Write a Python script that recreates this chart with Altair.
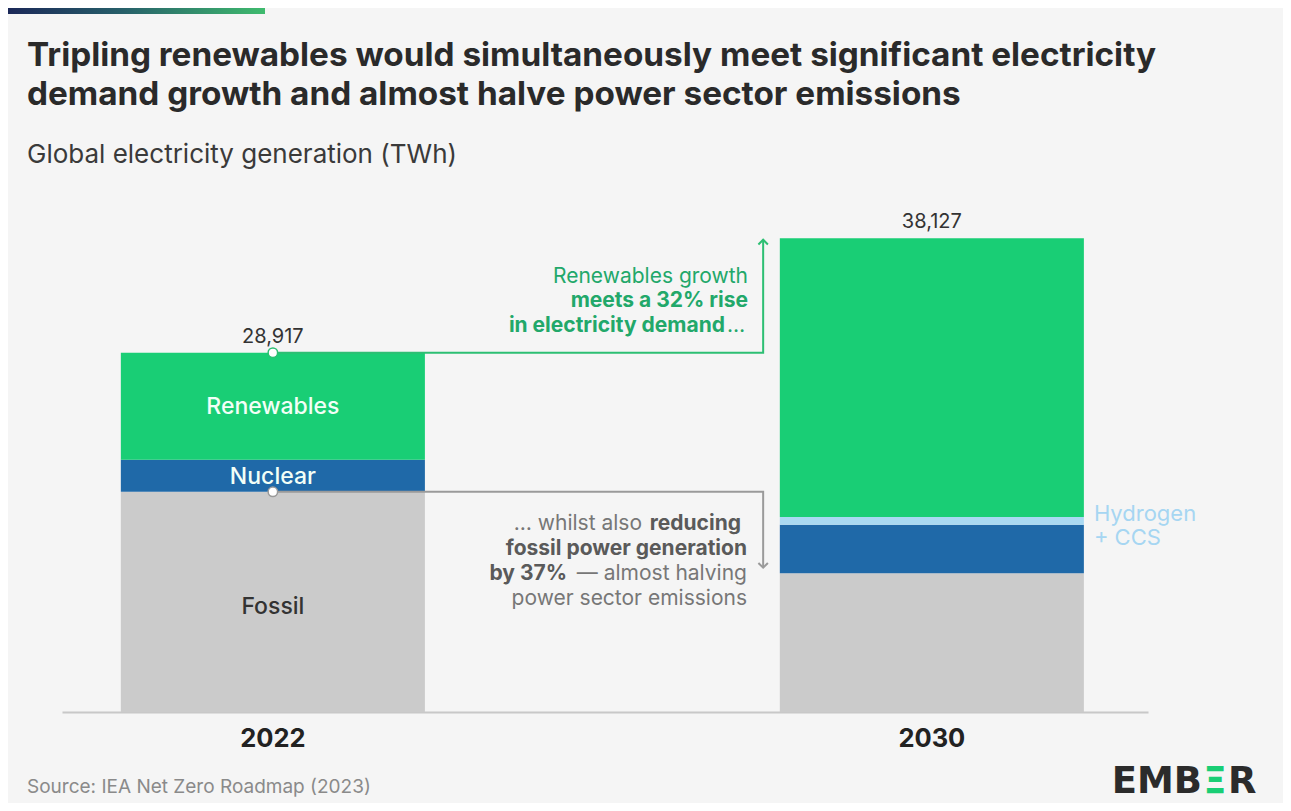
import altair as alt
import pandas as pd

# ---------------- data ----------------
years = ["2022", "2030"]
categories = ["Fossil", "Nuclear", "Hydrogen + CCS", "Renewables"]
fossil = [17720, 11163]
nuclear = [2578, 3900]
hydrogen_ccs = [0, 640]
renewables = [8619, 22424]
totals = [28917, 38127]

colors = ["#cbcbcb", "#1f69a8", "#a9d9f2", "#19ce75"]

FONT = "Inter"
HALF = 0.2307          # half bar width in slot units
XC = 0.744             # x (slot units) of the connector verticals

rows = []
for i, yr in enumerate(years):
    base = 0
    for cat, vals in zip(categories, [fossil, nuclear, hydrogen_ccs, renewables]):
        v = vals[i]
        rows.append(dict(year=yr, idx=i, category=cat, start=base, end=base + v, mid=base + v / 2))
        base += v
seg = pd.DataFrame(rows)
tot = pd.DataFrame({"year": years, "idx": [0, 1], "total": totals})

green_path = pd.DataFrame({"x": [0, XC, XC], "y": [totals[0], totals[0], totals[1] - 120], "o": [0, 1, 2]})
gray_path = pd.DataFrame({"x": [0, XC, XC], "y": [fossil[0], fossil[0], fossil[1] + 450], "o": [0, 1, 2]})

xscale = alt.Scale(domain=[-0.32, 1.328], nice=False, zero=False)
yscale = alt.Scale(domain=[0, 40000], nice=False)
xaxis = alt.Axis(domain=True, domainColor="#c8c8c8", domainWidth=2, ticks=False,
                 labels=False, grid=False, title=None)


def X(f):
    return alt.X(f, type="quantitative", scale=xscale, axis=xaxis)


def Y(f):
    return alt.Y(f, type="quantitative", scale=yscale, axis=None)


one = alt.Data(values=[{"a": 1}])


def txt(text, x, y, size, color, weight="normal", align="left", font=FONT):
    return alt.Chart(one).mark_text(
        text=text, align=align, baseline="alphabetic", fontSize=size,
        fontWeight=weight, color=color, font=font
    ).encode(x=alt.value(x), y=alt.value(y))


bars = alt.Chart(seg).transform_filter("datum.end > datum.start").transform_calculate(
    x0=f"datum.idx - {HALF}", x1=f"datum.idx + {HALF}"
).mark_rect(strokeWidth=0).encode(
    x=X("x0"), x2="x1", y=Y("start"), y2="end",
    color=alt.Color("category:N", scale=alt.Scale(domain=categories, range=colors), legend=None),
)

seg22 = alt.Chart(seg).transform_filter("datum.idx == 0")
white_labels = seg22.transform_filter(
    "datum.category == 'Renewables' || datum.category == 'Nuclear'"
).mark_text(
    font=FONT, fontSize=23, fontWeight=500, color="#f2fff7", baseline="middle", dy=1
).encode(x=X("idx"), y=Y("mid"), text="category:N")
fossil_label = seg22.transform_filter("datum.category == 'Fossil'").mark_text(
    font=FONT, fontSize=23, fontWeight=500, color="#333333", baseline="middle", dy=5
).encode(x=X("idx"), y=Y("mid"), text="category:N")

h2_label = alt.Chart(seg).transform_filter(
    "datum.idx == 1 && datum.category == 'Hydrogen + CCS'"
).transform_calculate(
    xr=f"datum.idx + {HALF}", label="replace(datum.category, ' + ', '\\n+ ')"
).mark_text(
    font=FONT, fontSize=22, color="#a6d6f2", align="left", baseline="middle",
    dx=10, dy=-7, lineBreak="\n", lineHeight=24
).encode(x=X("xr"), y=Y("mid"), text="label:N")

total_labels = alt.Chart(tot).mark_text(
    font=FONT, fontSize=20, color="#333333", baseline="alphabetic", dy=-10
).encode(x=X("idx"), y=Y("total"), text=alt.Text("total:Q", format=","))

year_labels = alt.Chart(tot).transform_calculate(zero="0").mark_text(
    font=FONT, fontSize=25.5, fontWeight="bold", color="#222222", baseline="alphabetic", dy=35
).encode(x=X("idx"), y=Y("zero"), text="year:N")

green_line = alt.Chart(green_path).mark_line(color="#2dbf73", strokeWidth=2).encode(
    x=X("x"), y=Y("y"), order="o:Q")
gray_line = alt.Chart(gray_path).mark_line(color="#9a9a9a", strokeWidth=2).encode(
    x=X("x"), y=Y("y"), order="o:Q")

green_arrow = alt.Chart(green_path).transform_filter("datum.o == 2").mark_point(
    shape="M-1,1L0,0L1,1", filled=False, size=90, strokeWidth=2, color="#2dbf73", opacity=1
).encode(x=X("x"), y=Y("y"))
gray_arrow = alt.Chart(gray_path).transform_filter("datum.o == 2").mark_point(
    shape="M-1,-1L0,0L1,-1", filled=False, size=90, strokeWidth=2, color="#9a9a9a", opacity=1
).encode(x=X("x"), y=Y("y"))

green_dot = alt.Chart(green_path).transform_filter("datum.o == 0").mark_point(
    shape="circle", filled=True, fill="#ffffff", stroke="#2dbf73", strokeWidth=1.5, size=90, opacity=1
).encode(x=X("x"), y=Y("y"))
gray_dot = alt.Chart(gray_path).transform_filter("datum.o == 0").mark_point(
    shape="circle", filled=True, fill="#ffffff", stroke="#9a9a9a", strokeWidth=1.5, size=90, opacity=1
).encode(x=X("x"), y=Y("y"))

# decorative top gradient bar
grad = alt.Chart(one).mark_rect(
    color=alt.LinearGradient(
        gradient="linear", x1=0, x2=1, y1=0, y2=0,
        stops=[alt.GradientStop(color="#1b2858", offset=0),
               alt.GradientStop(color="#27606a", offset=0.45),
               alt.GradientStop(color="#3fbb6e", offset=1)],
    )
).encode(x=alt.value(-54), x2=alt.value(203), y=alt.value(-207), y2=alt.value(-201))

GREEN_T = "#22a86a"
G_REG = "#777777"
G_BOLD = "#5a5a5a"
ANN = 21

texts = [
    txt("Tripling renewables would simultaneously meet significant electricity", -35, -149, 33.3, "#2a2a2a", "bold"),
    txt("demand growth and almost halve power sector emissions", -35, -110, 33.3, "#2a2a2a", "bold"),
    txt("Global electricity generation (TWh)", -35, -52, 26, "#3a3a3a"),
    # green annotation
    txt("Renewables growth", 686, 68, ANN, GREEN_T, "normal", "right"),
    txt("meets a 32% rise", 686, 92, ANN, GREEN_T, "bold", "right"),
    txt("in electricity demand", 663, 117, ANN, GREEN_T, "bold", "right"),
    txt("\u2026", 665, 117, ANN, GREEN_T, "normal", "left"),
    # gray annotation
    txt("\u2026 whilst also", 580, 315, ANN, G_REG, "normal", "right"),
    txt("reducing", 679, 315, ANN, G_BOLD, "bold", "right"),
    txt("fossil power generation", 685, 340, ANN, G_BOLD, "bold", "right"),
    txt("by 37%", 505, 365, ANN, G_BOLD, "bold", "right"),
    txt("\u2014 almost halving", 685, 365, ANN, G_REG, "normal", "right"),
    txt("power sector emissions", 685, 390, ANN, G_REG, "normal", "right"),
    # footer
    txt("Source: IEA Net Zero Roadmap (2023)", -35, 578, 19, "#8a8a8a"),
    txt("EMB", 1140, 578, 37, "#2b2b2b", "bold", "right", "DejaVu Sans"),
    txt("\u039e", 1153, 578, 37, "#19ce75", "bold", "center", "DejaVu Sans"),
    txt("R", 1166, 578, 37, "#2b2b2b", "bold", "left", "DejaVu Sans"),
]

chart = alt.layer(
    bars, green_line, gray_line, green_arrow, gray_arrow, green_dot, gray_dot,
    white_labels, fossil_label, h2_label, total_labels, year_labels, grad, *texts
).properties(
    width=1086, height=497,
    autosize=alt.AutoSizeParams(type="none"),
    padding={"left": 54, "top": 207, "right": 135, "bottom": 91},
).configure(background="#f5f5f5").configure_view(strokeWidth=0)

chart.save("out.html", embed_options={"renderer": "svg", "actions": False})
